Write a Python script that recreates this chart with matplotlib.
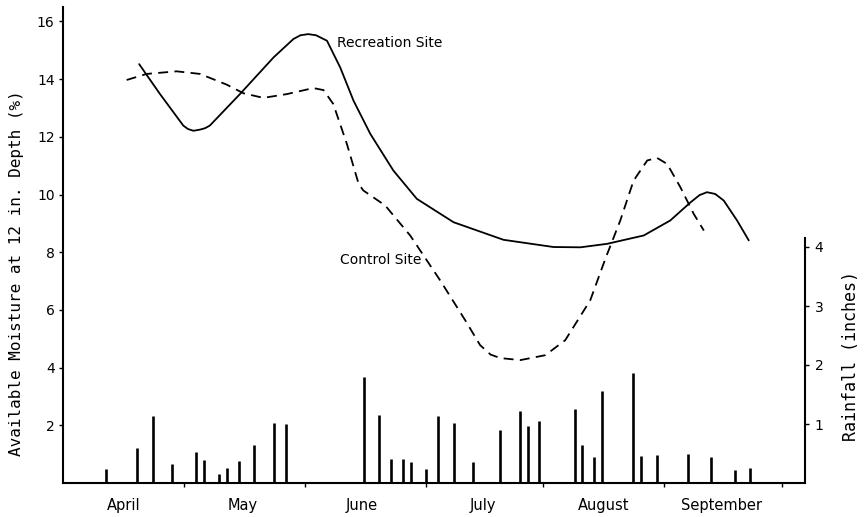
import matplotlib
matplotlib.use("Agg")
import matplotlib.pyplot as plt

# ---- data (days since April 1) ----
rec_days = [18.5, 23.8, 29.8, 31.0, 32.4, 34.1, 35.4, 36.6, 44.3, 52.9, 58.0, 59.8, 61.8,
            63.8, 66.6, 70.0, 73.4, 77.7, 83.6, 89.6, 99.0, 111.8, 124.6, 131.5, 138.3,
            147.7, 154.5, 159.7, 162.0, 163.9, 166.0, 168.2, 171.6, 174.6]
rec_moist = [14.52, 13.49, 12.39, 12.27, 12.21, 12.25, 12.30, 12.39, 13.48, 14.75, 15.39,
             15.52, 15.56, 15.52, 15.33, 14.40, 13.25, 12.10, 10.83, 9.85, 9.04, 8.43, 8.18,
             8.17, 8.29, 8.58, 9.10, 9.73, 9.98, 10.08, 10.02, 9.79, 9.10, 8.41]

ctl_days = [15.3, 20.4, 28.1, 34.1, 40.9, 45.2, 50.3, 56.3, 63.1, 65.7, 68.2, 71.7, 74.7,
            75.9, 81.5, 87.9, 95.6, 102.0, 105.8, 108.5, 111.0, 116.1, 122.5, 127.6, 134.0,
            137.9, 141.7, 145.1, 148.6, 151.1, 153.7, 157.1, 160.5, 163.1]
ctl_moist = [13.97, 14.18, 14.27, 14.18, 13.81, 13.51, 13.35, 13.48, 13.69, 13.62, 13.14,
             11.75, 10.37, 10.14, 9.62, 8.58, 7.02, 5.64, 4.78, 4.45, 4.33, 4.26, 4.43, 4.95,
             6.33, 7.78, 9.10, 10.48, 11.18, 11.27, 11.06, 10.25, 9.33, 8.75]

rain_days = [10, 18, 22, 27, 33, 35, 39, 41, 44, 48, 53, 56, 76, 80, 83, 86, 88, 92, 95, 99,
             104, 111, 116, 118, 121, 130, 132, 135, 137, 145, 147, 151, 159, 165, 171, 175]
rain_in = [0.23, 0.60, 1.13, 0.32, 0.52, 0.39, 0.16, 0.25, 0.38, 0.65, 1.02, 1.00, 1.80,
           1.16, 0.40, 0.41, 0.36, 0.23, 1.14, 1.02, 0.36, 0.90, 1.22, 0.97, 1.05, 1.25,
           0.64, 0.44, 1.56, 1.86, 0.45, 0.47, 0.49, 0.44, 0.22, 0.25]

month_names = ["April", "May", "June", "July", "August", "September"]
month_mid = [14.5, 45, 75.5, 106.5, 137.5, 167.5]
month_edges = [30, 61, 92, 122, 153, 183]
moist_ticks = [2, 4, 6, 8, 10, 12, 14, 16]
rain_ticks = [1, 2, 3, 4]

FONT = "DejaVu Sans"
plt.rcParams['font.family'] = [FONT]

W, H = 865, 517
fig = plt.figure(figsize=(W / 100, H / 100), dpi=100)
L, R, B, T = 63, 805, 483, 7
ax = fig.add_axes([L / W, 1 - B / H, (R - L) / W, (B - T) / H])
ax2 = ax.twinx()

ax.set_xlim(-1, 189)
ax.set_ylim(0, 16.5)
ax2.set_ylim(0, 476 / 59)

ax.plot(rec_days, rec_moist, color="black", lw=1.3, solid_capstyle="round",
        solid_joinstyle="round")
ax.plot(ctl_days, ctl_moist, color="black", lw=1.3, linestyle=(0, (5.5, 3.5)))
ax2.vlines(rain_days, 0, rain_in, color="black", lw=1.9)

ax.spines["top"].set_visible(False)
ax2.spines["top"].set_visible(False)
ax.spines["right"].set_visible(False)
ax2.spines["left"].set_visible(False)
ax2.spines["bottom"].set_visible(False)
ax2.spines["right"].set_bounds(0, 4.15)
for sp in [ax.spines["left"], ax.spines["bottom"], ax2.spines["right"]]:
    sp.set_linewidth(1.5)

ax.set_yticks(moist_ticks)
ax.set_yticklabels([str(t) for t in moist_ticks], fontsize=10)
ax.tick_params(axis="y", direction="out", length=3, width=1, pad=3)
ax2.set_yticks(rain_ticks)
ax2.set_yticklabels([str(t) for t in rain_ticks], fontsize=10)
ax2.tick_params(axis="y", direction="out", length=3, width=1, pad=4)

ax.set_xticks(month_edges)
ax.set_xticklabels([""] * len(month_edges))
ax.set_xticks(month_mid, minor=True)
ax.set_xticklabels(month_names, minor=True, fontsize=10.5)
ax.tick_params(axis="x", which="major", direction="out", length=3, width=1)
ax.tick_params(axis="x", which="minor", length=0, pad=11)

ax.text(69.2, 15.26, "Recreation Site", fontsize=10, ha="left", va="center")
ax.text(70.0, 7.72, "Control Site", fontsize=10, ha="left", va="center")

fig.text(17 / W, 1 - 273 / H, "Available Moisture at 12 in. Depth (%)", rotation=90,
         ha="center", va="center", fontsize=11.5, family="DejaVu Sans Mono")
fig.text(851 / W, 1 - 356 / H, "Rainfall (inches)", rotation=90,
         ha="center", va="center", fontsize=12, family="DejaVu Sans Mono")

fig.savefig("out.png", dpi=100)
